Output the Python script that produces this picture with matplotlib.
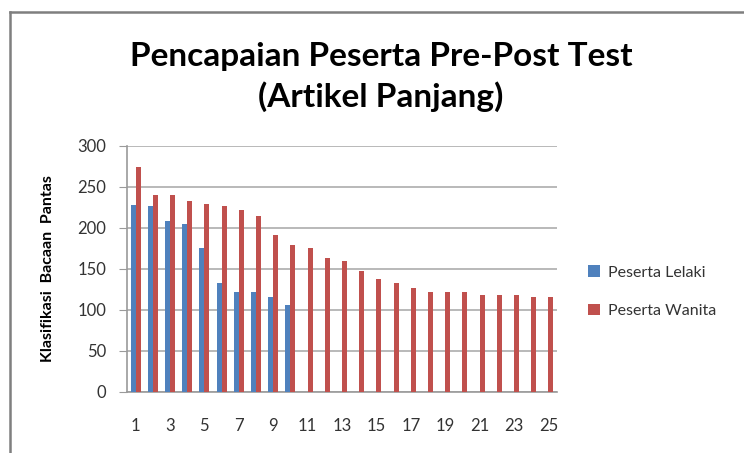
import matplotlib
matplotlib.use("Agg")
import matplotlib.pyplot as plt
from matplotlib.lines import Line2D
import numpy as np

categories = [str(i) for i in range(1, 26)]
lelaki = [228, 226, 208, 205, 175, 132, 121, 121, 115, 106]
wanita = [274, 240, 240, 233, 229, 226, 221, 214, 191, 179,
          175, 163, 160, 147, 137, 133, 127, 122, 122, 121,
          118, 118, 118, 115, 115]
series_names = ["Peserta Lelaki", "Peserta Wanita"]
title_text = "Pencapaian Peserta Pre-Post Test\n(Artikel Panjang)"
ylabel_text = "Klasifikasi  Bacaan  Pantas"
yticks = [0, 50, 100, 150, 200, 250, 300]

blue = "#4F81BD"
red = "#C0504D"
font = ["Lato", "DejaVu Sans"]
plt.rcParams["font.family"] = font

W, H = 744, 453
fig = plt.figure(figsize=(W / 100, H / 100), dpi=100)

# chart border (cropped box)
fig.add_artist(Line2D([10 / W, 10 / W], [-0.1, 1 - 12 / H], transform=fig.transFigure,
                      color="#7f7f7f", lw=1.8))
fig.add_artist(Line2D([10 / W, 1.1], [1 - 12 / H, 1 - 12 / H], transform=fig.transFigure,
                      color="#7f7f7f", lw=1.8))

left, right, top, bottom = 127, 557, 145.7, 391.7
ax = fig.add_axes([left / W, 1 - bottom / H, (right - left) / W, (bottom - top) / H])

x = np.arange(len(categories))
bw = 0.29
ax.bar(x[:len(lelaki)] - bw / 2, lelaki, width=bw, color=blue, label=series_names[0], zorder=3)
ax.bar(x - bw / 2 + bw, wanita, width=bw, color=red, label=series_names[1], zorder=3)

ax.set_xlim(-0.5, len(categories) - 0.5)
ax.set_ylim(0, 300)
ax.set_yticks(yticks)
ax.set_yticklabels([str(v) for v in yticks])
ax.set_xticks(x[::2])
ax.set_xticklabels(categories[::2])
ax.yaxis.grid(True, color="#b3b3b3", lw=1.3, zorder=0)
ax.set_axisbelow(True)
for s in ["top", "right"]:
    ax.spines[s].set_visible(False)
ax.spines["left"].set_color("#9a9a9a")
ax.spines["bottom"].set_color("#9a9a9a")
ax.spines["left"].set_linewidth(1.2)
ax.spines["bottom"].set_linewidth(1.2)
ax.tick_params(axis="y", length=6, color="#9a9a9a", labelsize=12, labelcolor="#333333", pad=9)
ax.tick_params(axis="x", length=0, labelsize=12, labelcolor="#333333", pad=19)

ax.set_ylabel(ylabel_text, fontsize=11.5, fontweight="bold", labelpad=16)

fig.text(381 / W, 1 - 77 / H, title_text, ha="center", va="center", fontsize=24,
         fontweight="bold", linespacing=1.42)

leg = ax.legend(loc="upper left", bbox_to_anchor=(574 / W, 1 - 251 / H),
                bbox_transform=fig.transFigure, frameon=False, fontsize=11.5,
                handlelength=0.7, handleheight=0.7, handletextpad=0.5, labelspacing=1.5)
for t in leg.get_texts():
    t.set_color("#333333")

fig.savefig("out.png", dpi=100)
